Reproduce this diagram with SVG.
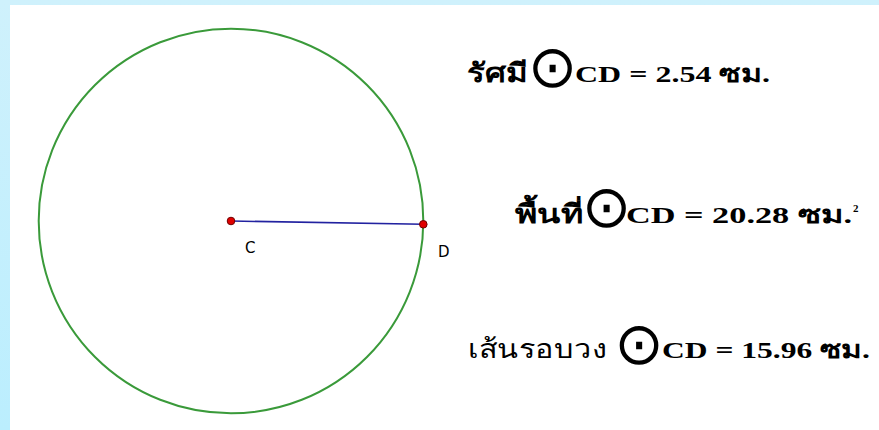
<svg xmlns="http://www.w3.org/2000/svg" width="879" height="430" viewBox="0 0 879 430">
<defs>
<linearGradient id="bg" x1="0" y1="0" x2="0" y2="1">
<stop offset="0" stop-color="#cff1fc"/>
<stop offset="1" stop-color="#bbeefe"/>
</linearGradient>
<style>
.m{font-family:"Liberation Serif","Noto Sans",serif;font-weight:bold;font-size:24px;fill:#000}
.th{font-family:"Liberation Serif","Noto Sans",serif;font-weight:bold;font-size:26px;fill:#000}
.thn{font-family:"Liberation Serif","Noto Sans",serif;font-weight:normal;font-size:26px;fill:#000}
.sup{font-family:"Liberation Serif",serif;font-weight:bold;font-size:11px;fill:#000}
.sym{font-family:"DejaVu Sans",sans-serif;font-size:59px;fill:#000;text-anchor:middle}
.lbl{font-family:"DejaVu Sans","Liberation Sans",sans-serif;font-size:15px;fill:#000}
.pt{fill:#e00000;stroke:#700000;stroke-width:1}
</style>
</defs>
<rect x="0" y="0" width="879" height="430" fill="url(#bg)"/>
<rect x="10" y="5" width="869" height="425" fill="#ffffff"/>
<g id="connectors">
<circle cx="231" cy="221" r="192.3" fill="none" stroke="#3a9a3a" stroke-width="2"/>
<line x1="231" y1="221" x2="423.3" y2="224.3" stroke="#2222a0" stroke-width="1.6"/>
</g>
<g id="pointC">
<circle class="pt" cx="231" cy="221" r="3.8"/>
<text class="lbl" x="245" y="253">C</text>
</g>
<g id="pointD">
<circle class="pt" cx="423.3" cy="224.3" r="3.8"/>
<text class="lbl" x="438" y="257">D</text>
</g>
<g id="radius">
<text class="th" x="467" y="82" textLength="61" lengthAdjust="spacingAndGlyphs">รัศมี</text>
<text class="sym" x="552.5" y="86.5">⊙</text>
<text class="m" x="575" y="82" textLength="195" lengthAdjust="spacingAndGlyphs">CD = 2.54 ซม.</text>
</g>
<g id="area">
<text class="th" x="515" y="223" textLength="68" lengthAdjust="spacingAndGlyphs">พื้นที่</text>
<text class="sym" x="606.5" y="226.5">⊙</text>
<text class="m" x="626" y="223" textLength="226" lengthAdjust="spacingAndGlyphs">CD = 20.28 ซม.</text>
<text class="sup" x="853" y="212">2</text>
</g>
<g id="circumference">
<text class="thn" x="468" y="358" textLength="139" lengthAdjust="spacingAndGlyphs">เส้นรอบวง</text>
<text class="sym" x="639" y="363.5">⊙</text>
<text class="m" x="662" y="358" textLength="208" lengthAdjust="spacingAndGlyphs">CD = 15.96 ซม.</text>
</g>
</svg>
